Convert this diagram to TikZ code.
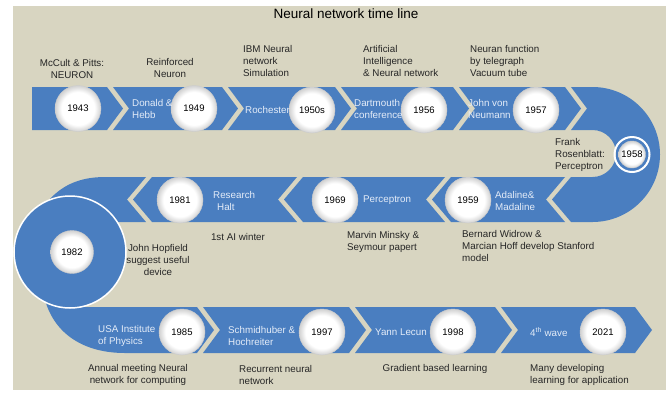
\documentclass[tikz,border=0pt]{standalone}
\usepackage{fontspec}
\setmainfont{Liberation Sans}
\definecolor{bg}{RGB}{216,213,193}
\definecolor{band}{RGB}{74,126,192}
\definecolor{wtxt}{RGB}{228,236,248}
\pgfdeclareradialshading{ball}{\pgfpoint{0bp}{0bp}}{color(0bp)=(white); color(18bp)=(white); color(25bp)=(black!18); color(50bp)=(black!18)}
\begin{document}
\begin{tikzpicture}[x=1pt,y=-1pt,
  lab/.style={font=\fontsize{9.8}{12}\selectfont, text=black!85, inner sep=0pt, align=left},
  wlab/.style={lab, text=wtxt},
  yr/.style={circle, minimum size=46pt, inner sep=0pt, shading=ball, draw=black!20, line width=0.4pt, font=\fontsize{9.5}{10}\selectfont},
  rib/.style={fill=band}]
\useasboundingbox (0,0) rectangle (669,392);
\fill[bg] (13,6) rectangle (666,390);
\node[font=\fontsize{13.5}{15}\selectfont] (title) at (346,14) {Neural network time line};
% top row
\fill[rib] (32,87) -- (107,87) -- (123,108.5) -- (107,130) -- (32,130) -- cycle;
\fill[rib] (113,87) -- (222,87) -- (238,108.5) -- (222,130) -- (113,130) -- (129,108.5) -- cycle;
\fill[rib] (228,87) -- (335,87) -- (351,108.5) -- (335,130) -- (228,130) -- (244,108.5) -- cycle;
\fill[rib] (341,87) -- (453,87) -- (469,108.5) -- (453,130) -- (341,130) -- (357,108.5) -- cycle;
\fill[rib] (459,87) -- (565,87) -- (581,108.5) -- (565,130) -- (459,130) -- (475,108.5) -- cycle;
% U turn
\fill[rib] (571,87) -- (592.5,87) arc[start angle=-90, end angle=90, radius=67.5]
  -- (571,222) -- (552,199.5) -- (571,177) -- (592.5,177) arc[start angle=90, end angle=-90, radius=23.5]
  -- (571,130) -- (587,108.5) -- cycle;
% middle row
\fill[rib] (565,177) -- (546,199.5) -- (565,222) -- (451,222) -- (432,199.5) -- (451,177) -- cycle;
\fill[rib] (445,177) -- (426,199.5) -- (445,222) -- (303,222) -- (284,199.5) -- (303,177) -- cycle;
\fill[rib] (297,177) -- (278,199.5) -- (297,222) -- (152,222) -- (133,199.5) -- (152,177) -- cycle;
% upper crescent
\fill[rib] (146,177) -- (127,199.5) -- (146,222) -- (110,222) -- (70,252) -- (45,205)
  .. controls (60,185) and (80,177) .. (105,177) -- cycle;
% lower crescent
\fill[rib] (197,307) -- (214,330) -- (197,353) -- (125,353) .. controls (85,353) and (55,335) .. (45,300)
  -- (70,290) -- (75,307) -- cycle;
% bottom row
\fill[rib] (203,307) -- (349,307) -- (366,330) -- (349,353) -- (203,353) -- (220,330) -- cycle;
\fill[rib] (355,307) -- (495,307) -- (512,330) -- (495,353) -- (355,353) -- (372,330) -- cycle;
\fill[rib] (501,307) -- (635,307) -- (652,330) -- (635,353) -- (501,353) -- (518,330) -- cycle;
% big circle
\filldraw[fill=band, draw=white, line width=1.5pt] (70,252) circle[radius=56];
% 1958 ring
\draw[white, line width=2pt] (632,154.5) circle[radius=17.5];
% year balls
\node[yr] (y1943) at (78,108.5) {1943};
\node[yr] (y1949) at (194,108.5) {1949};
\node[yr] (y1950) at (312,110) {1950s};
\node[yr] (y1956) at (424,110) {1956};
\node[yr] (y1957) at (536,110) {1957};
\node[yr, minimum size=27pt] (y1958) at (632,154.5) {1958};
\node[yr] (y1959) at (468,200) {1959};
\node[yr] (y1969) at (335,200) {1969};
\node[yr] (y1981) at (180,200) {1981};
\node[yr, minimum size=43pt] (y1982) at (72,252) {1982};
\node[yr] (y1985) at (182,332) {1985};
\node[yr] (y1997) at (322,332) {1997};
\node[yr] (y1998) at (453,332) {1998};
\node[yr] (y2021) at (603,332) {2021};
% black labels
\node[lab, align=center] (l1) at (72,69) {McCult \& Pitts:\\NEURON};
\node[lab, align=center] (l2) at (170,68) {Reinforced\\Neuron};
\node[lab, anchor=west] (l3) at (243,61) {IBM Neural\\network\\Simulation};
\node[lab, anchor=west] (l4) at (363,61) {Artificial\\Intelligence\\\& Neural network};
\node[lab, anchor=west] (l5) at (470,61) {Neuran function\\by telegraph\\Vacuum tube};
\node[lab, anchor=west] (l6) at (555,155) {Frank\\Rosenblatt:\\Perceptron};
\node[lab] (l7) at (238,237) {1st AI winter};
\node[lab, anchor=west] (l8) at (347,242) {Marvin Minsky \&\\Seymour papert};
\node[lab, anchor=west] (l9) at (462,246) {Bernard Widrow \&\\Marcian Hoff develop Stanford\\model};
\node[lab, align=center] (l10) at (158,260) {John Hopfield\\suggest useful\\device};
\node[lab, align=center] (l11) at (138,375) {Annual meeting Neural\\network for computing};
\node[lab, anchor=west] (l12) at (239,375) {Recurrent neural\\network};
\node[lab] (l13) at (435,369) {Gradient based learning};
\node[lab, anchor=west] (l14) at (530,375) {Many developing\\learning for application};
% white labels
\node[wlab, anchor=west] (w1) at (132,108.5) {Donald \&\\Hebb};
\node[wlab, anchor=west] (w2) at (245,110) {Rochester};
\node[wlab, anchor=west] (w3) at (354,108.5) {Dartmouth\\conference};
\node[wlab, anchor=west] (w4) at (468,108.5) {John von\\Neumann};
\node[wlab, anchor=west] (w5) at (213,201) {Research\\\hspace*{4pt}Halt};
\node[wlab, anchor=west] (w6) at (363,200) {Perceptron};
\node[wlab, anchor=west] (w7) at (495,201) {Adaline\&\\Madaline};
\node[wlab, anchor=west] (w8) at (98,336) {USA Institute\\of Physics};
\node[wlab, anchor=west] (w9) at (228,336) {Schmidhuber \&\\Hochreiter};
\node[wlab, anchor=west] (w10) at (375,332) {Yann Lecun};
\node[wlab, anchor=west] (w11) at (530,332) {4\textsuperscript{th} wave};
\end{tikzpicture}
\end{document}
